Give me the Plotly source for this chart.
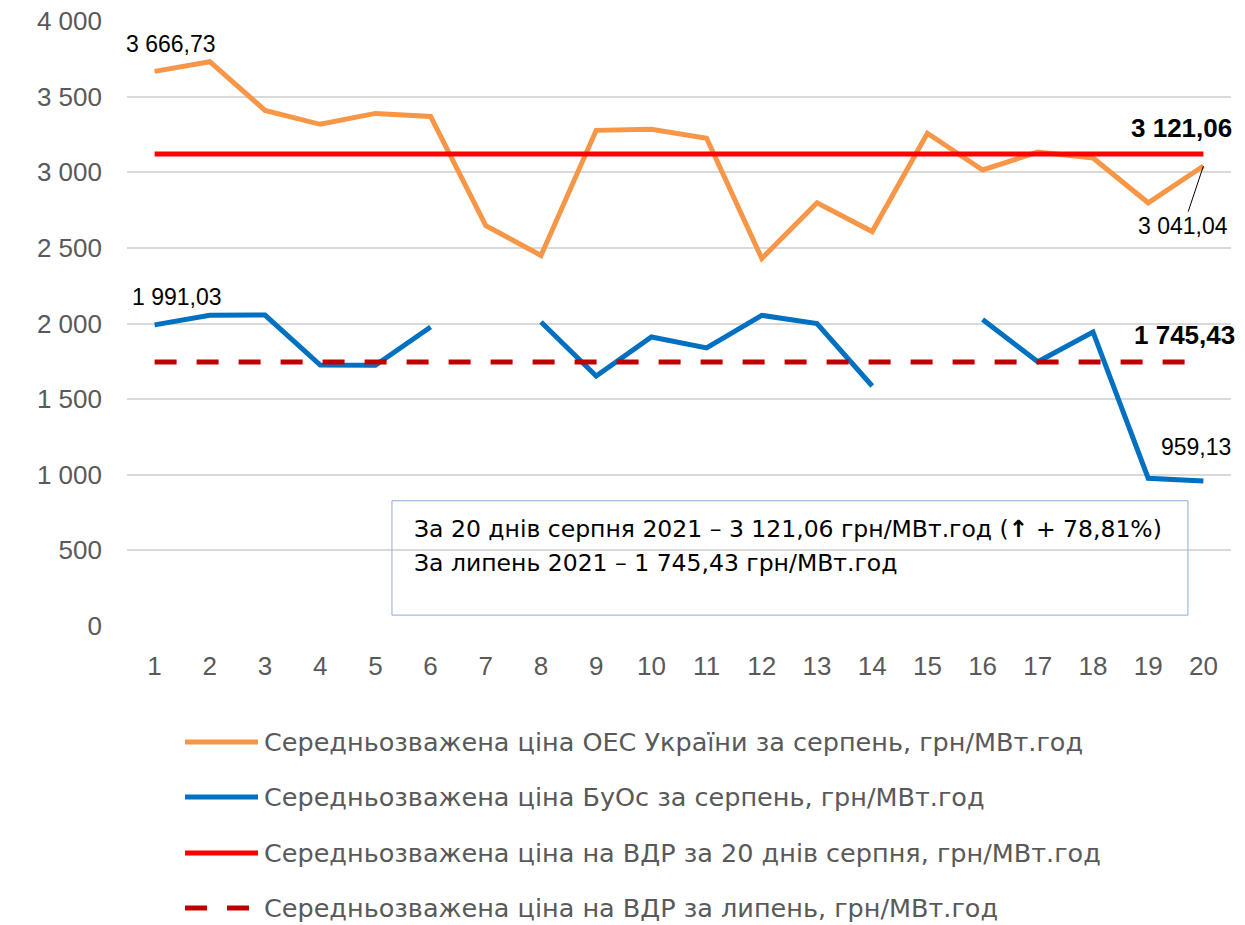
import plotly.graph_objects as go

days = list(range(1, 21))
oes_aug = [3666.73, 3731, 3409, 3317, 3389, 3369, 2647, 2450, 3277, 3284,
           3225, 2430, 2798, 2608, 3258, 3015, 3133, 3094, 2798, 3041.04]
buos_aug = [1991.03, 2054, 2056, 1725, 1724, 1977, None, 2010, 1653, 1911,
            1839, 2054, 1999, 1587, None, 2027, 1747, 1944, 977, 959.13]
vdr_aug_avg = 3121.06
vdr_jul_avg = 1745.43

y_ticks = [0, 500, 1000, 1500, 2000, 2500, 3000, 3500, 4000]
y_tick_text = ["0", "500", "1 000", "1 500", "2 000", "2 500", "3 000", "3 500", "4 000"]

names = [
    "Середньозважена ціна ОЕС України за серпень, грн/МВт.год",
    "Середньозважена ціна БуОс за серпень, грн/МВт.год",
    "Середньозважена ціна на ВДР за 20 днів серпня, грн/МВт.год",
    "Середньозважена ціна на ВДР за липень, грн/МВт.год",
]
colors = ["#F79646", "#0070C0", "#FF0000", "#C00000"]
dashes = ["solid", "solid", "solid", "22px,20px"]

box_lines = [
    "За 20 днів серпня 2021 – 3 121,06 грн/МВт.год (<b>↑</b> + 78,81%)",
    "За липень 2021 – 1 745,43 грн/МВт.год",
]

NUMF = "Liberation Sans"
TXTF = "DejaVu Sans"
GRAY = "#595959"

fig = go.Figure()
series = [oes_aug, buos_aug, [vdr_aug_avg] * len(days), [vdr_jul_avg] * len(days)]
for s, n, c, d in zip(series, names, colors, dashes):
    fig.add_trace(go.Scatter(x=days, y=s, mode="lines", name=n,
                             line=dict(color=c, width=5, dash=d),
                             connectgaps=False, showlegend=False))

ann = []
def lab(x, y, text, xs, ys, bold=False):
    ann.append(dict(x=x, y=y, xref="x", yref="y", text=f"<b>{text}</b>" if bold else text,
                    showarrow=False, xshift=xs, yshift=ys,
                    font=dict(family=NUMF, size=26 if bold else 23, color="#000000")))

lab(1, oes_aug[0], "3 666,73", 16, 27)
lab(1, buos_aug[0], "1 991,03", 22, 28)
lab(20, buos_aug[-1], "959,13", -7, 34)
lab(20, vdr_aug_avg, "3 121,06", -22, 26, bold=True)
lab(20, vdr_jul_avg, "1 745,43", -19, 27, bold=True)
ann.append(dict(x=20, y=oes_aug[-1], xref="x", yref="y", text="3 041,04",
                showarrow=True, arrowhead=0, arrowwidth=1, arrowcolor="#000000",
                ax=-20, ay=60, standoff=0,
                font=dict(family=NUMF, size=23, color="#000000")))

# text box (paper coordinates of the plot area)
fig.add_shape(type="rect", xref="paper", yref="paper", x0=0.240, x1=0.961, y0=0.018, y1=0.207,
              line=dict(color="#8FAADC", width=1), fillcolor="rgba(0,0,0,0)")
for i, t in enumerate(box_lines):
    ann.append(dict(x=0.258, y=[0.161, 0.1034][i], xref="paper", yref="paper", text=t,
                    showarrow=False, xanchor="left", yanchor="middle",
                    font=dict(family=TXTF, size=23.5, color="#000000")))

# legend drawn below the plot
W = 1104.0
H = 605.0
PB = 626  # page y of plot bottom
leg_y = [742, 797, 853, 908]
for i, (n, c, d) in enumerate(zip(names, colors, dashes)):
    yp = (PB - leg_y[i]) / H
    fig.add_shape(type="line", xref="paper", yref="paper",
                  x0=(185 - 127) / W, x1=(258 - 127) / W, y0=yp, y1=yp,
                  line=dict(color=c, width=5, dash=d))
    ann.append(dict(x=(262 - 127) / W, y=yp, xref="paper", yref="paper", text=n,
                    showarrow=False, xanchor="left", yanchor="middle",
                    font=dict(family=TXTF, size=25.5, color=GRAY)))

# page body has an 8px margin; plot area placed to match the reference
fig.update_layout(
    width=1245, height=925,
    margin=dict(l=119, r=22, t=13, b=307),
    plot_bgcolor="white", paper_bgcolor="white",
    annotations=ann,
    font=dict(family=NUMF, color=GRAY),
)
fig.update_xaxes(range=[0.5, 20.5], tickmode="array", tickvals=days,
                 ticktext=[str(d) for d in days], showgrid=False, zeroline=False,
                 showline=False, ticks="", tickfont=dict(family=NUMF, size=26, color=GRAY),
                 ticklabelstandoff=22, automargin=False)
fig.update_yaxes(range=[0, 4000], tickmode="array", tickvals=y_ticks, ticktext=y_tick_text,
                 showgrid=True, gridcolor="#D9D9D9", gridwidth=2, zeroline=False,
                 showline=False, ticks="", tickfont=dict(family=NUMF, size=26, color=GRAY),
                 ticklabelstandoff=24, automargin=False, ticklabeloverflow="allow")

fig.write_html("out.html")
